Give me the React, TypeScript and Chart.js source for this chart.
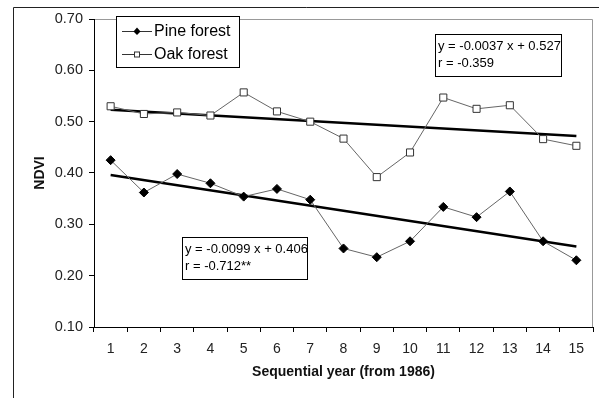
import React, { useEffect, useRef } from "react";
import { Chart, registerables } from "chart.js";

Chart.register(...registerables);

const years = ["1", "2", "3", "4", "5", "6", "7", "8", "9", "10", "11", "12", "13", "14", "15"];
const pineForest = [0.425, 0.362, 0.398, 0.380, 0.354, 0.369, 0.348, 0.253, 0.236, 0.267, 0.334, 0.314, 0.364, 0.267, 0.230];
const oakForest = [0.530, 0.515, 0.518, 0.512, 0.557, 0.520, 0.500, 0.467, 0.392, 0.440, 0.547, 0.525, 0.532, 0.466, 0.453];
const pineTrend = [0.396, null, null, null, null, null, null, null, null, null, null, null, null, null, 0.257];
const oakTrend = [0.523, null, null, null, null, null, null, null, null, null, null, null, null, null, 0.472];
const oakEquation = ["y = -0.0037 x + 0.527", "r = -0.359"];
const pineEquation = ["y = -0.0099 x + 0.406", "r = -0.712**"];
const seriesNames = ["Pine forest", "Oak forest"];

const FONT = "'Liberation Sans', Arial, sans-serif";

const decorPlugin = {
  id: "decor",
  beforeDraw(chart: any) {
    const ctx = chart.ctx;
    ctx.save();
    ctx.fillStyle = "#fff";
    ctx.fillRect(0, 0, chart.width, chart.height);
    ctx.strokeStyle = "#222";
    ctx.lineWidth = 1;
    ctx.beginPath();
    ctx.moveTo(13.5, chart.height);
    ctx.lineTo(13.5, 7.5);
    ctx.lineTo(chart.width, 7.5);
    ctx.stroke();
    const a = chart.chartArea;
    ctx.strokeStyle = "#999";
    ctx.beginPath();
    ctx.moveTo(a.left, a.top + 0.5);
    ctx.lineTo(a.right - 0.5, a.top + 0.5);
    ctx.lineTo(a.right - 0.5, a.bottom);
    ctx.stroke();
    ctx.restore();
  },
  afterDraw(chart: any) {
    const ctx = chart.ctx;
    ctx.save();
    // legend
    const lx = 116.5, ly = 16.5, lw = 123, lh = 51;
    ctx.fillStyle = "#fff";
    ctx.fillRect(lx, ly, lw, lh);
    ctx.strokeStyle = "#000";
    ctx.lineWidth = 1;
    ctx.strokeRect(lx, ly, lw, lh);
    const rows = [31, 54];
    rows.forEach((y, i) => {
      ctx.strokeStyle = "#333";
      ctx.lineWidth = 1;
      ctx.beginPath();
      ctx.moveTo(122, y + 0.5);
      ctx.lineTo(152, y + 0.5);
      ctx.stroke();
      if (i === 0) {
        ctx.fillStyle = "#000";
        ctx.beginPath();
        ctx.moveTo(137, y - 3.5);
        ctx.lineTo(140.5, y + 0.5);
        ctx.lineTo(137, y + 4);
        ctx.lineTo(133.5, y + 0.5);
        ctx.closePath();
        ctx.fill();
      } else {
        ctx.fillStyle = "#fff";
        ctx.fillRect(134, y - 2.5, 6, 6);
        ctx.strokeStyle = "#333";
        ctx.strokeRect(134.5, y - 2, 5, 5);
      }
      ctx.fillStyle = "#000";
      ctx.font = `16px ${FONT}`;
      ctx.textBaseline = "middle";
      ctx.textAlign = "left";
      ctx.fillText(seriesNames[i], 154, y + 1);
    });
    // equation boxes
    const boxes = [
      { x: 435.5, y: 34.5, w: 126, h: 42, lines: oakEquation },
      { x: 182.5, y: 237.5, w: 125, h: 42, lines: pineEquation },
    ];
    boxes.forEach((b) => {
      ctx.fillStyle = "#fff";
      ctx.fillRect(b.x, b.y, b.w, b.h);
      ctx.strokeStyle = "#000";
      ctx.lineWidth = 1;
      ctx.strokeRect(b.x, b.y, b.w, b.h);
      ctx.fillStyle = "#000";
      ctx.font = `13px ${FONT}`;
      ctx.textBaseline = "middle";
      ctx.textAlign = "left";
      b.lines.forEach((t, k) => ctx.fillText(t, b.x + 2.5, b.y + 12 + k * 17));
    });
    ctx.restore();
  },
};

export default function App() {
  const ref = useRef<HTMLCanvasElement>(null);
  useEffect(() => {
    if (!ref.current) return;
    const chart = new Chart(ref.current, {
      type: "line",
      data: {
        labels: years,
        datasets: [
          {
            label: seriesNames[0],
            data: pineForest,
            borderColor: "#666",
            borderWidth: 1,
            pointStyle: "rectRot",
            pointRadius: 4.5,
            pointBackgroundColor: "#000",
            pointBorderColor: "#000",
            pointBorderWidth: 1,
            tension: 0,
          },
          {
            label: seriesNames[1],
            data: oakForest,
            borderColor: "#666",
            borderWidth: 1,
            pointStyle: "rect",
            pointRadius: 5,
            pointBackgroundColor: "#fff",
            pointBorderColor: "#333",
            pointBorderWidth: 1,
            tension: 0,
          },
          {
            label: "Pine trend",
            data: pineTrend,
            borderColor: "#000",
            borderWidth: 2.5,
            pointRadius: 0,
            spanGaps: true,
          },
          {
            label: "Oak trend",
            data: oakTrend,
            borderColor: "#000",
            borderWidth: 2.5,
            pointRadius: 0,
            spanGaps: true,
          },
        ],
      },
      options: {
        animation: false,
        responsive: false,
        layout: { padding: { left: 0, top: 19, right: 5, bottom: 0 } },
        plugins: { legend: { display: false }, tooltip: { enabled: false } },
        scales: {
          x: {
            type: "category",
            offset: true,
            grid: { offset: true, drawOnChartArea: false, drawTicks: true, tickLength: 5, color: "#000" },
            border: { color: "#000", width: 1 },
            ticks: { color: "#222", font: { family: FONT, size: 14 }, padding: 9, maxRotation: 0, autoSkip: false },
            title: {
              display: true,
              text: "Sequential year (from 1986)",
              color: "#111",
              font: { family: FONT, size: 14, weight: "bold" },
              padding: { top: 0, bottom: 17 },
            },
            afterFit: (s: any) => { s.height = 71; },
          },
          y: {
            min: 0.1,
            max: 0.7,
            grid: { drawOnChartArea: false, drawTicks: true, tickLength: 5, color: "#000" },
            border: { color: "#000", width: 1 },
            ticks: {
              stepSize: 0.1,
              color: "#222",
              padding: 6,
              font: { family: FONT, size: 14.5 },
              callback: (v: any) => Number(v).toFixed(2),
            },
            title: {
              display: true,
              text: "NDVI",
              color: "#111",
              font: { family: FONT, size: 14, weight: "bold" },
              padding: { top: 31.6, bottom: 0 },
            },
            afterFit: (s: any) => { s.width = 94; },
          },
        },
      },
      plugins: [decorPlugin],
    } as any);
    return () => chart.destroy();
  }, []);
  return (
    <div style={{ position: "fixed", left: 0, top: 0, width: 599, height: 398, background: "#fff" }}>
      <canvas ref={ref} width={599} height={398} style={{ display: "block" }} />
    </div>
  );
}
